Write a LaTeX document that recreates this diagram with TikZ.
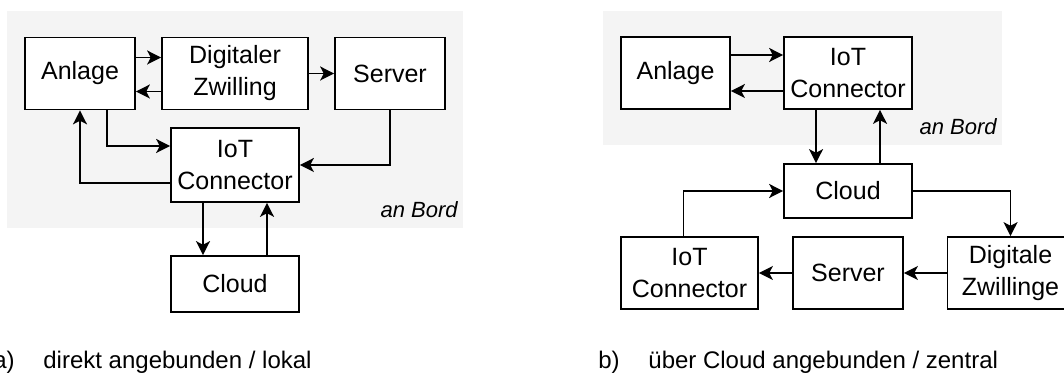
\documentclass[tikz,border=0pt]{standalone}
\usepackage{fontspec}
\setmainfont{Liberation Sans}
\usetikzlibrary{arrows.meta}
\definecolor{bordgrau}{HTML}{F4F4F4}
\tikzset{
    box/.style ={
        rectangle,
        draw=black,
        fill=white,
        line width=0.85pt,
        minimum height =36pt,
        inner sep=0pt,
        align=center,
        font=\fontsize{12.5}{16}\selectfont
    },
    pfeil/.style ={
        line width=0.85pt,
        -{Stealth[length=7pt,width=7pt,inset=1.8pt]}
    },
    bord/.style ={
        fill=bordgrau
    }
}

\begin{document}
\begin{tikzpicture}[x=0.5pt,y=-0.5pt]
        \useasboundingbox (0,0) rectangle (1064,373);
        % a) direkt angebunden
        \fill[bord] (7,11) rectangle (463,228);
        \node[box, minimum width=55pt] (ANLAGEA) at(80,73.5) {Anlage};
        \node[box, minimum width=73pt] (ZWILLING) at(235,73.5) {Digitaler\\Zwilling};
        \node[box, minimum width=55pt] (SERVERA) at(390,73.5) {Server};
        \node[box, minimum width=64pt, minimum height=37pt] (IOTA) at(235,165) {IoT\\Connector};
        \node[box, minimum width=64pt, minimum height=28pt] (CLOUDA) at(235,284) {Cloud};
        \node[anchor=base east, inner sep=0pt, font=\fontsize{11}{13}\itshape] (BORDA) at(458,218) {an Bord};
        \draw[pfeil] ([yshift=8pt]ANLAGEA.east)--([yshift=8pt]ZWILLING.west);
        \draw[pfeil] ([yshift=-9pt]ZWILLING.west)--([yshift=-9pt]ANLAGEA.east);
        \draw[pfeil] (ZWILLING)--(SERVERA);
        \draw[pfeil] ([xshift=13.5pt]ANLAGEA.south) |- ([yshift=9.5pt]IOTA.west);
        \draw[pfeil] ([yshift=-9pt]IOTA.west) -| (ANLAGEA.south);
        \draw[pfeil] (SERVERA.south) |- (IOTA.east);
        \draw[pfeil] ([xshift=-16pt]IOTA.south)--([xshift=-16pt]CLOUDA.north);
        \draw[pfeil] ([xshift=16pt]CLOUDA.north)--([xshift=16pt]IOTA.south);
        \node[anchor=base east, inner sep=0pt, font=\fontsize{12}{14}\selectfont] (CAPA) at(15,368) {a)};
        \node[anchor=base west, inner sep=0pt, font=\fontsize{12}{14}\selectfont] (TEXTA) at(43,368) {direkt angebunden / lokal};

        % b) ueber Cloud angebunden
        \fill[bord] (603,11) rectangle (1002,145);
        \node[box, minimum width=54.5pt] (ANLAGEB) at(675.5,73) {Anlage};
        \node[box, minimum width=64pt] (IOTB) at(848,73) {IoT\\Connector};
        \node[box, minimum width=64pt, minimum height=27pt] (CLOUDB) at(848,191) {Cloud};
        \node[box, minimum width=68.5pt] (IOTC) at(689.5,273) {IoT\\Connector};
        \node[box, minimum width=55pt] (SERVERB) at(848,273) {Server};
        \node[box, minimum width=63pt] (ZWILLINGE) at(1010.5,273) {Digitale\\Zwillinge};
        \node[anchor=base east, inner sep=0pt, font=\fontsize{11}{13}\itshape] (BORDB) at(997,135) {an Bord};
        \draw[pfeil] ([yshift=9pt]ANLAGEB.east)--([yshift=9pt]IOTB.west);
        \draw[pfeil] ([yshift=-9pt]IOTB.west)--([yshift=-9pt]ANLAGEB.east);
        \draw[pfeil] ([xshift=-16pt]IOTB.south)--([xshift=-16pt]CLOUDB.north);
        \draw[pfeil] ([xshift=16pt]CLOUDB.north)--([xshift=16pt]IOTB.south);
        \draw[pfeil] ([xshift=-3pt]IOTC.north) |- (CLOUDB.west);
        \draw[pfeil] (CLOUDB.east) -| (ZWILLINGE.north);
        \draw[pfeil] (ZWILLINGE)--(SERVERB);
        \draw[pfeil] (SERVERB)--(IOTC);
        \node[anchor=base east, inner sep=0pt, font=\fontsize{12}{14}\selectfont] (CAPB) at(620,368) {b)};
        \node[anchor=base west, inner sep=0pt, font=\fontsize{12}{14}\selectfont] (TEXTB) at(648,368) {über Cloud angebunden / zentral};
    \end{tikzpicture}
\end{document}
